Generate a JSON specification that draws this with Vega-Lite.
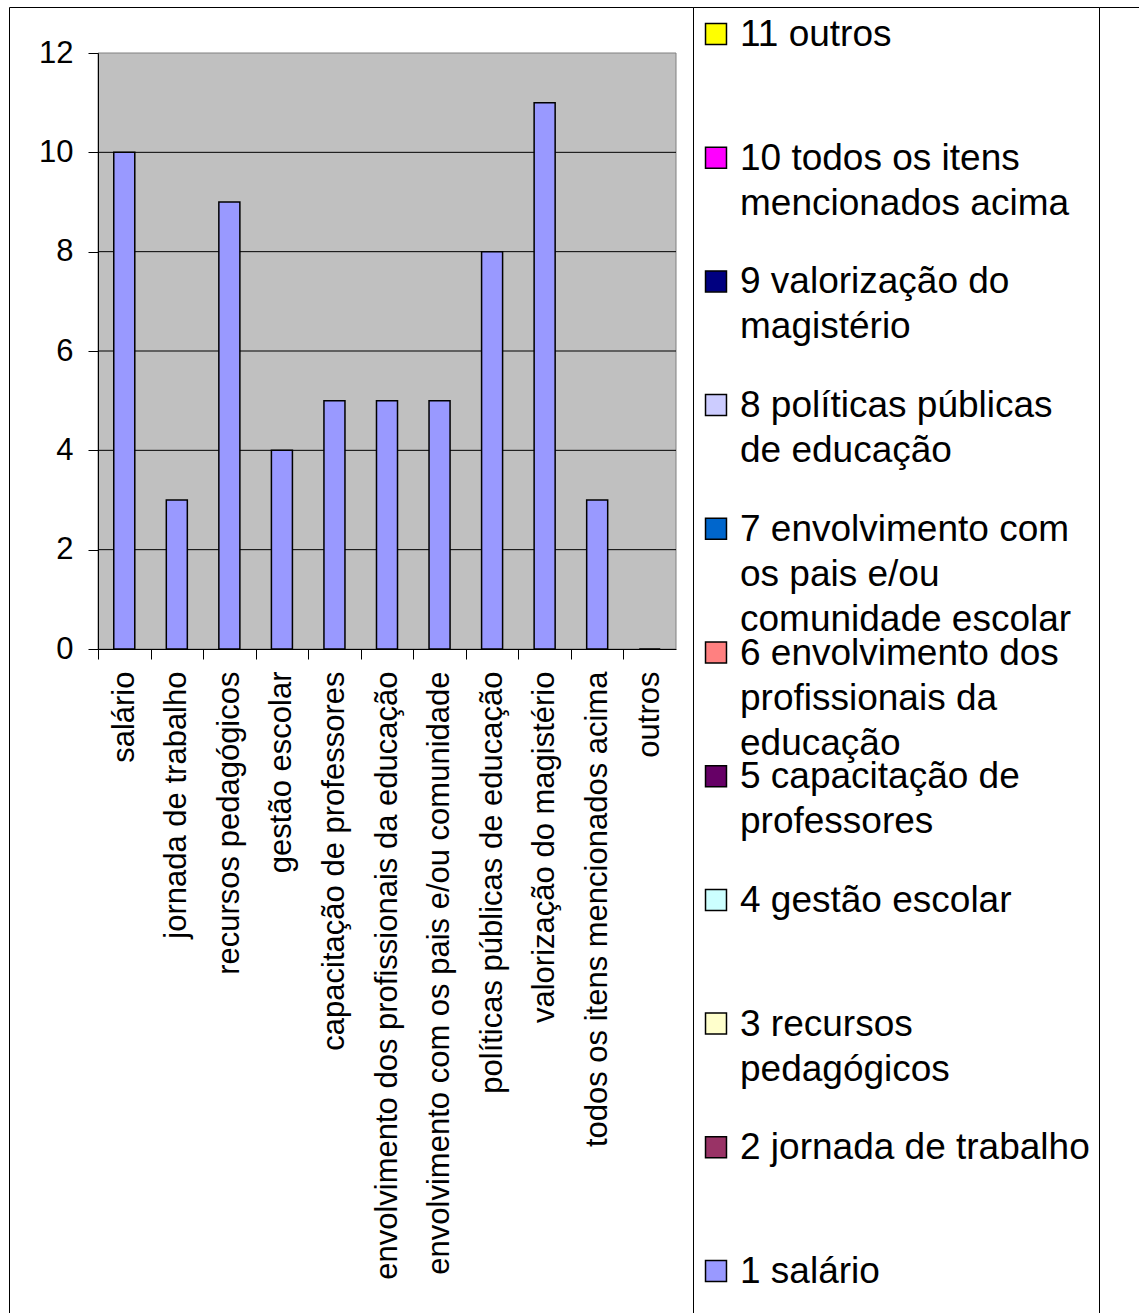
{
  "$schema": "https://vega.github.io/schema/vega-lite/v6.json",
  "background": "white",
  "padding": {"left": -8, "top": 6, "right": 0, "bottom": 0},
  "spacing": 0,
  "bounds": "flush",
  "config": {"font": "Liberation Sans", "view": {"stroke": null}},
  "hconcat": [
    {
      "width": 684,
      "height": 1310,
      "view": {"stroke": "black", "strokeWidth": 1},
      "resolve": {"scale": {"x": "independent"}, "axis": {"x": "independent"}},
      "layer": [
        {
          "data": {"values": [{}]},
          "mark": {"type": "rect", "fill": "#C0C0C0", "stroke": "#808080", "strokeWidth": 1},
          "encoding": {
            "x": {"datum": 0, "type": "quantitative", "scale": {"domain": [0, 1], "range": [89, 667]}, "axis": null},
            "x2": {"datum": 1},
            "y": {
              "datum": 0,
              "type": "quantitative",
              "scale": {"domain": [0, 12], "range": [642, 46], "nice": false},
              "axis": {"title": null, "offset": -89, "zindex": 1, "values": [0, 2, 4, 6, 8, 10, 12], "format": "d", "grid": false, "tickSize": 10, "tickColor": "black", "domainColor": "black", "labelFontSize": 31, "labelPadding": 15, "labelColor": "black"}
            },
            "y2": {"datum": 12}
          }
        },
        {
          "data": {"values": [{"g": 2}, {"g": 4}, {"g": 6}, {"g": 8}, {"g": 10}]},
          "mark": {"type": "rule", "color": "black", "strokeWidth": 1},
          "encoding": {
            "x": {"datum": 0, "type": "quantitative", "scale": {"domain": [0, 1], "range": [89, 667]}, "axis": null},
            "x2": {"datum": 1},
            "y": {
              "field": "g",
              "type": "quantitative",
              "scale": {"domain": [0, 12], "range": [642, 46], "nice": false},
              "axis": {"title": null, "offset": -89, "zindex": 1, "values": [0, 2, 4, 6, 8, 10, 12], "format": "d", "grid": false, "tickSize": 10, "tickColor": "black", "domainColor": "black", "labelFontSize": 31, "labelPadding": 15, "labelColor": "black"}
            }
          }
        },
        {
          "data": {
            "values": [
              {"categoria": "salário", "valor": 10},
              {"categoria": "jornada de trabalho", "valor": 3},
              {"categoria": "recursos pedagógicos", "valor": 9},
              {"categoria": "gestão escolar", "valor": 4},
              {"categoria": "capacitação de professores", "valor": 5},
              {"categoria": "envolvimento dos profissionais da educação", "valor": 5},
              {"categoria": "envolvimento com os pais e/ou comunidade", "valor": 5},
              {"categoria": "políticas públicas de educação", "valor": 8},
              {"categoria": "valorização do magistério", "valor": 11},
              {"categoria": "todos os itens mencionados acima", "valor": 3},
              {"categoria": "outros", "valor": 0}
            ]
          },
          "mark": {"type": "bar", "fill": "#9999FF", "stroke": "black", "strokeWidth": 1.5},
          "encoding": {
            "x": {
              "field": "categoria",
              "type": "nominal",
              "sort": null,
              "scale": {"range": [89, 667], "paddingInner": 0.6, "paddingOuter": 0.3},
              "axis": {
                "title": null,
                "orient": "bottom",
                "offset": -668,
                "zindex": 1,
                "labelAngle": -90,
                "labelAlign": "right",
                "labelBaseline": "middle",
                "labelFontSize": 31,
                "labelColor": "black",
                "labelLimit": 0,
                "labelPadding": 12,
                "labelOverlap": false,
                "bandPosition": 0,
                "tickExtra": true,
                "tickOffset": -15.75,
                "labelOffset": 15.75,
                "tickSize": 10,
                "tickColor": "black",
                "domainColor": "black",
                "grid": false
              }
            },
            "y": {
              "field": "valor",
              "type": "quantitative",
              "scale": {"domain": [0, 12], "range": [642, 46], "nice": false},
              "axis": {"title": null, "offset": -89, "zindex": 1, "values": [0, 2, 4, 6, 8, 10, 12], "format": "d", "grid": false, "tickSize": 10, "tickColor": "black", "domainColor": "black", "labelFontSize": 31, "labelPadding": 15, "labelColor": "black"}
            }
          }
        }
      ]
    },
    {
      "width": 406,
      "height": 1310,
      "view": {"stroke": "black", "strokeWidth": 1},
      "data": {
        "values": [
          {"n": 11, "rotulo": "11 outros"},
          {"n": 10, "rotulo": "10 todos os itens\nmencionados acima"},
          {"n": 9, "rotulo": "9 valorização do\nmagistério"},
          {"n": 8, "rotulo": "8 políticas públicas\nde educação"},
          {"n": 7, "rotulo": "7 envolvimento com\nos pais e/ou\ncomunidade escolar"},
          {"n": 6, "rotulo": "6 envolvimento dos\nprofissionais da\neducação"},
          {"n": 5, "rotulo": "5 capacitação de\nprofessores"},
          {"n": 4, "rotulo": "4 gestão escolar"},
          {"n": 3, "rotulo": "3 recursos\npedagógicos"},
          {"n": 2, "rotulo": "2 jornada de trabalho"},
          {"n": 1, "rotulo": "1 salário"}
        ]
      },
      "layer": [
        {
          "mark": {"type": "point", "shape": "square", "filled": true, "stroke": "black", "strokeWidth": 1.5, "size": 440, "opacity": 1},
          "encoding": {
            "x": {"datum": 0, "type": "quantitative", "scale": {"domain": [0, 1], "range": [23, 406]}, "axis": null},
            "y": {"field": "n", "type": "quantitative", "scale": {"domain": [1, 11], "range": [1264, 27]}, "axis": null},
            "fill": {
              "field": "n",
              "type": "nominal",
              "scale": {
                "domain": [11, 10, 9, 8, 7, 6, 5, 4, 3, 2, 1],
                "range": ["#FFFF00", "#FF00FF", "#000080", "#CCCCFF", "#0066CC", "#FF8080", "#660066", "#CCFFFF", "#FFFFCC", "#993366", "#9999FF"]
              },
              "legend": null
            }
          }
        },
        {
          "mark": {"type": "text", "align": "left", "baseline": "alphabetic", "dx": 24, "dy": 12, "fontSize": 37, "lineHeight": 45, "lineBreak": "\n", "color": "black"},
          "encoding": {
            "x": {"datum": 0, "type": "quantitative", "scale": {"domain": [0, 1], "range": [23, 406]}, "axis": null},
            "y": {"field": "n", "type": "quantitative", "scale": {"domain": [1, 11], "range": [1264, 27]}, "axis": null},
            "text": {"field": "rotulo"}
          }
        }
      ]
    },
    {
      "width": 60,
      "height": 1310,
      "view": {"stroke": "black", "strokeWidth": 1},
      "data": {"values": [{}]},
      "mark": {"type": "point", "opacity": 0},
      "encoding": {}
    }
  ]
}
